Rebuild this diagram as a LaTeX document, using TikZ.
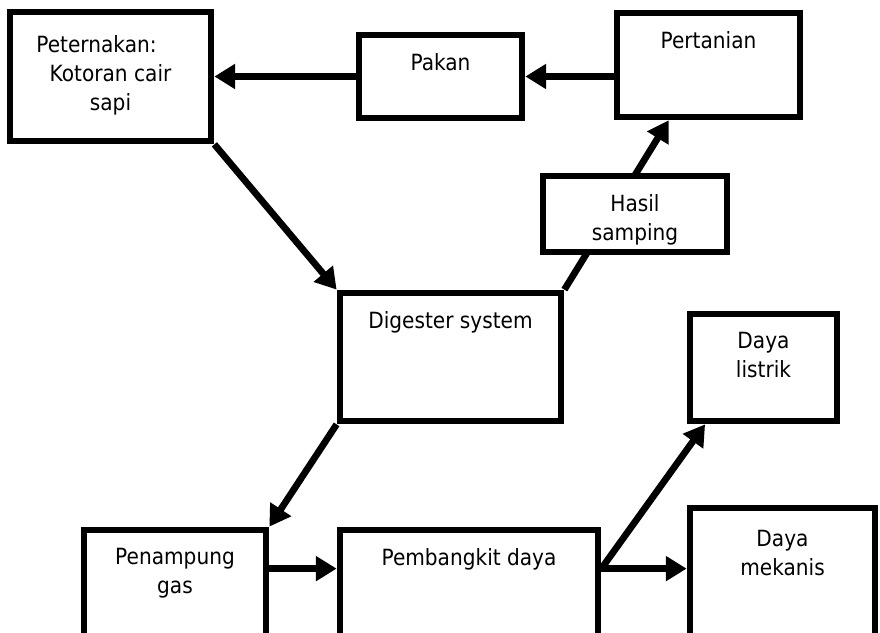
\documentclass[tikz,border=0pt]{standalone}
\usepackage{fontspec}
\setmainfont[FakeStretch=0.9]{DejaVu Sans}
\usetikzlibrary{arrows.meta,positioning,calc}
\tikzset{
  kotak/.style={draw,fill=white,line width=4.8pt,inner sep=0pt},
  teks/.style={inner sep=0pt,align=center,font=\fontsize{15.9}{20.6}\selectfont},
  panah/.style={->,line width=4.8pt}
}
\begin{document}
\begin{tikzpicture}[>={Triangle[length=0.52cm,width=0.6cm]}]
\useasboundingbox (0,0) rectangle (22,15.825);
\clip (0,0) rectangle (22,15.825);
% Kotak bagian atas
\node[kotak,minimum width=5.025cm,minimum height=3.225cm] (pet) at (2.7625,13.9125) {};
\node[kotak,minimum width=4.075cm,minimum height=2.075cm] (pak) at (11.0125,13.9125) {};
\node[kotak,minimum width=4.575cm,minimum height=2.6cm] (per) at (17.7125,14.2) {};
\node[kotak,minimum width=5.525cm,minimum height=3.2cm] (dig) at (11.2625,6.9) {};
\node[kotak,minimum width=3.675cm,minimum height=2.675cm] (lis) at (19.0875,6.6375) {};
% Kotak bagian bawah (terpotong)
\node[kotak,minimum width=4.55cm,minimum height=4cm] (pen) at (4.375,0.575) {};
\node[kotak,minimum width=6.45cm,minimum height=4cm] (pem) at (11.725,0.575) {};
\node[kotak,minimum width=4.625cm,minimum height=4.55cm] (mek) at (19.5625,0.85) {};
% Tulisan
\node[teks,below=0.66cm of pet.north] (tpet) {Peternakan:\hspace*{0.7cm}\\Kotoran cair\\sapi};
\node[teks,below=0.54cm of pak.north] (tpak) {Pakan};
\node[teks,below=0.54cm of per.north] (tper) {Pertanian};
\node[teks,below=0.54cm of dig.north] (tdig) {Digester system};
\node[teks,below=0.54cm of lis.north] (tlis) {Daya\\listrik};
\node[teks,below=0.54cm of pen.north] (tpen) {Penampung\\gas};
\node[teks,below=0.54cm of pem.north] (tpem) {Pembangkit daya};
\node[teks,below=0.64cm of mek.north] (tmek) {Daya\\mekanis};
% Panah
\draw[panah] (pak) -- (pet);
\draw[panah] (per.west |- pak.east) -- (pak.east);
\draw[panah] (pet.south east) -- (dig.north west);
\draw[panah] (dig.south west) -- (pen.north east);
\coordinate (keluar) at ([yshift=-1.05cm]pem.north east);
\draw[panah] ([yshift=-1.05cm]pen.north east) -- ([yshift=-1.05cm]pem.north west);
\draw[panah] (keluar) -- (mek.west |- keluar);
\draw[panah] (keluar) -- ($(lis.south west)!0.12!(lis.south east)$);
\draw[panah] (dig.north east) -- ($(per.south west)!0.29!(per.south east)$);
% Hasil samping menutupi panah
\node[kotak,minimum width=4.6cm,minimum height=1.9cm] (has) at (15.875,10.475) {};
\node[teks,below=0.54cm of has.north] (thas) {Hasil\\samping};
\end{tikzpicture}
\end{document}
